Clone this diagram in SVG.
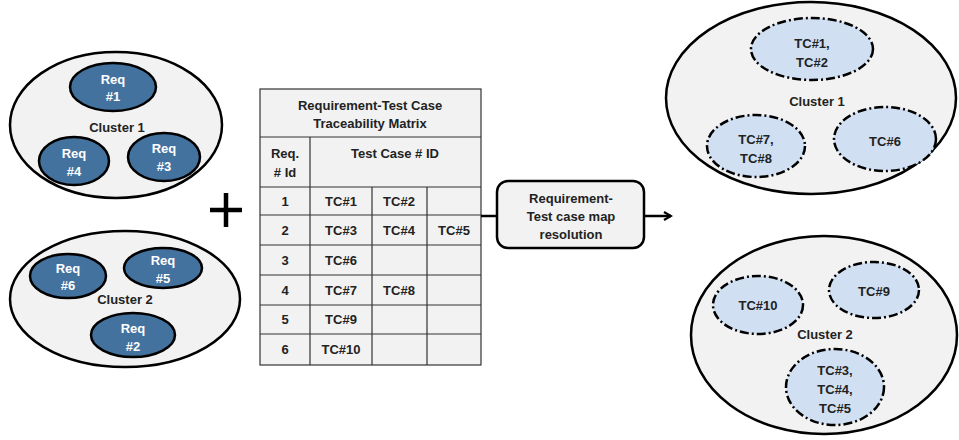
<svg xmlns="http://www.w3.org/2000/svg" width="959" height="440" viewBox="0 0 959 440">
<defs>
<style>
text{font-family:"Liberation Sans",Arial,sans-serif;font-weight:bold;font-size:13px;text-anchor:middle}
.cl{fill:#f2f2f2;stroke:#000;stroke-width:2.5}
.req{fill:#44729f;stroke:#000;stroke-width:2.5}
.req-t{fill:#fff}
.tc{fill:#d0e0f2;stroke:#000;stroke-width:2.5;stroke-dasharray:9 3 2 3}
.t{fill:#222}
.grid{fill:none;stroke:#333;stroke-width:1.2}
</style>
<marker id="arr" viewBox="0 0 10 10" refX="8" refY="5" markerWidth="10" markerHeight="10" markerUnits="userSpaceOnUse" orient="auto">
<path d="M1,1 L8,5 L1,9" fill="none" stroke="#000" stroke-width="2.2"/>
</marker>
</defs>
<rect width="959" height="440" fill="#fff"/>

<g id="cluster1-left">
<ellipse class="cl" cx="116" cy="125" rx="106" ry="73"/>
<text class="t" x="117" y="132">Cluster 1</text>
</g>
<g id="req1"><ellipse class="req" cx="113" cy="87" rx="43" ry="24"/><text class="req-t" x="113" y="84">Req</text><text class="req-t" x="113" y="101">#1</text></g>
<g id="req4"><ellipse class="req" cx="74" cy="161" rx="35" ry="24"/><text class="req-t" x="74" y="158">Req</text><text class="req-t" x="74" y="176">#4</text></g>
<g id="req3"><ellipse class="req" cx="164" cy="157" rx="36" ry="24"/><text class="req-t" x="164" y="153">Req</text><text class="req-t" x="164" y="171">#3</text></g>

<g id="cluster2-left">
<ellipse class="cl" cx="125" cy="299" rx="115" ry="68"/>
<text class="t" x="125" y="304">Cluster 2</text>
</g>
<g id="req6"><ellipse class="req" cx="68" cy="276" rx="38" ry="22"/><text class="req-t" x="68" y="273">Req</text><text class="req-t" x="68" y="290">#6</text></g>
<g id="req5"><ellipse class="req" cx="163" cy="268" rx="39" ry="20"/><text class="req-t" x="163" y="265">Req</text><text class="req-t" x="163" y="283">#5</text></g>
<g id="req2"><ellipse class="req" cx="133" cy="335" rx="42" ry="22"/><text class="req-t" x="133" y="333">Req</text><text class="req-t" x="133" y="351">#2</text></g>

<g id="plus">
<path d="M210,210 H242 M226,193 V227" stroke="#000" stroke-width="4.5" fill="none"/>
</g>

<g id="matrix">
<rect x="260" y="89" width="221" height="276" fill="#f2f2f2" stroke="#333" stroke-width="1.2"/>
<path class="grid" d="M260,137 H481 M260,187 H481 M260,215 H481 M260,245 H481 M260,275 H481 M260,305 H481 M260,334 H481 M310,137 V365 M372,187 V365 M427,187 V365"/>
<text class="t" x="370" y="110">Requirement-Test Case</text>
<text class="t" x="370" y="128">Traceability Matrix</text>
<text class="t" x="285" y="158">Req.</text>
<text class="t" x="285" y="177">#  Id</text>
<text class="t" x="395" y="158">Test Case # ID</text>
<text class="t" x="285" y="206">1</text><text class="t" x="341" y="206">TC#1</text><text class="t" x="399" y="206">TC#2</text>
<text class="t" x="285" y="235">2</text><text class="t" x="341" y="235">TC#3</text><text class="t" x="399" y="235">TC#4</text><text class="t" x="454" y="235">TC#5</text>
<text class="t" x="285" y="265">3</text><text class="t" x="341" y="265">TC#6</text>
<text class="t" x="285" y="295">4</text><text class="t" x="341" y="295">TC#7</text><text class="t" x="399" y="295">TC#8</text>
<text class="t" x="285" y="324">5</text><text class="t" x="341" y="324">TC#9</text>
<text class="t" x="285" y="354">6</text><text class="t" x="341" y="354">TC#10</text>
</g>

<g id="connectors">
<path d="M481,216 H497" stroke="#000" stroke-width="2.5" fill="none"/>
<path d="M644,216 H671" stroke="#000" stroke-width="2.5" fill="none" marker-end="url(#arr)"/>
</g>

<g id="resolution">
<rect x="497" y="181" width="147" height="67" rx="11" fill="#f2f2f2" stroke="#000" stroke-width="2.5"/>
<text class="t" x="571" y="203">Requirement-</text>
<text class="t" x="571" y="221">Test case map</text>
<text class="t" x="571" y="239">resolution</text>
</g>

<g id="cluster1-right">
<ellipse class="cl" cx="811" cy="98" rx="145" ry="96"/>
<text class="t" x="817" y="106">Cluster 1</text>
</g>
<g id="tc1-2"><ellipse class="tc" cx="812" cy="49" rx="61" ry="31"/><text class="t" x="812" y="48">TC#1,</text><text class="t" x="812" y="67">TC#2</text></g>
<g id="tc7-8"><ellipse class="tc" cx="756" cy="146" rx="49" ry="31"/><text class="t" x="756" y="144">TC#7,</text><text class="t" x="756" y="163">TC#8</text></g>
<g id="tc6"><ellipse class="tc" cx="885" cy="139" rx="51" ry="32"/><text class="t" x="885" y="146">TC#6</text></g>

<g id="cluster2-right">
<ellipse class="cl" cx="824" cy="335" rx="133" ry="99"/>
<text class="t" x="825" y="339">Cluster 2</text>
</g>
<g id="tc10"><ellipse class="tc" cx="758" cy="305" rx="45" ry="29"/><text class="t" x="758" y="310">TC#10</text></g>
<g id="tc9"><ellipse class="tc" cx="874" cy="290" rx="45" ry="28"/><text class="t" x="874" y="296">TC#9</text></g>
<g id="tc3-5"><ellipse class="tc" cx="835" cy="387" rx="49" ry="38"/><text class="t" x="835" y="375">TC#3,</text><text class="t" x="835" y="394">TC#4,</text><text class="t" x="835" y="413">TC#5</text></g>
</svg>
